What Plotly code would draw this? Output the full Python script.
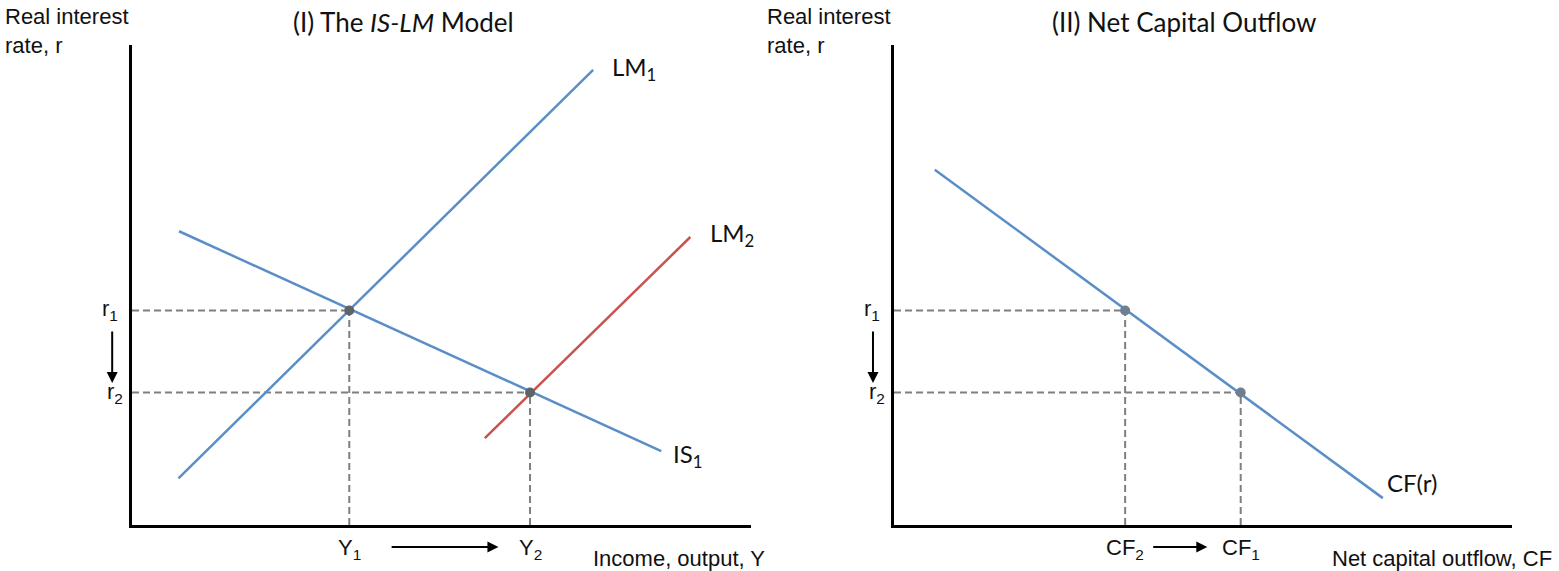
import plotly.graph_objects as go

# ---- Data (model units) ----
# Panel I: IS-LM
lm1_x = [0.75, 7.45]
lm1_y = [0.97, 9.48]
lm2_x = [5.70, 9.02]
lm2_y = [1.81, 6.00]
is1_x = [0.76, 8.55]
is1_y = [6.12, 1.54]
r1 = 4.47
r2 = 2.76
Y1 = 3.51
Y2 = 6.43
# Panel II: net capital outflow
cf_x = [0.66, 7.91]
cf_y = [7.40, 0.56]
CF2 = 3.74
CF1 = 5.61

blue = "#5b8ec6"
red = "#c9534f"
gray = "#7f7f7f"
dash = "7px,4px"
sans = "Liberation Sans, Arial, sans-serif"
cal = "Lato, Carlito, sans-serif"

fig = go.Figure()

def dline(x, y, ax, ay):
    fig.add_trace(go.Scatter(x=x, y=y, mode="lines", xaxis=ax, yaxis=ay,
                             line=dict(color=gray, width=2, dash=dash),
                             hoverinfo="skip", showlegend=False))

# Panel I guides
dline([0, Y1], [r1, r1], "x", "y")
dline([Y1, Y1], [0, r1], "x", "y")
dline([0, Y2], [r2, r2], "x", "y")
dline([Y2, Y2], [0, r2], "x", "y")
# Panel II guides
dline([0, CF2], [r1, r1], "x2", "y2")
dline([CF2, CF2], [0, r1], "x2", "y2")
dline([0, CF1], [r2, r2], "x2", "y2")
dline([CF1, CF1], [0, r2], "x2", "y2")

# curves
fig.add_trace(go.Scatter(x=lm1_x, y=lm1_y, mode="lines", line=dict(color=blue, width=2.5),
                         xaxis="x", yaxis="y", showlegend=False))
fig.add_trace(go.Scatter(x=is1_x, y=is1_y, mode="lines", line=dict(color=blue, width=2.5),
                         xaxis="x", yaxis="y", showlegend=False))
fig.add_trace(go.Scatter(x=lm2_x, y=lm2_y, mode="lines", line=dict(color=red, width=2.5),
                         xaxis="x", yaxis="y", showlegend=False))
fig.add_trace(go.Scatter(x=cf_x, y=cf_y, mode="lines", line=dict(color=blue, width=2.5),
                         xaxis="x2", yaxis="y2", showlegend=False))

# equilibrium points
fig.add_trace(go.Scatter(x=[Y1, Y2], y=[r1, r2], mode="markers",
                         marker=dict(color="#5f6468", size=10), xaxis="x", yaxis="y", showlegend=False))
fig.add_trace(go.Scatter(x=[CF2, CF1], y=[r1, r2], mode="markers",
                         marker=dict(color="#6f7f90", size=10), xaxis="x2", yaxis="y2", showlegend=False))

ann = []
def txt(text, x, y, xref, yref, xanchor="center", yanchor="middle", font=sans, size=22, align="left"):
    ann.append(dict(text=text, x=x, y=y, xref=xref, yref=yref, showarrow=False,
                    xanchor=xanchor, yanchor=yanchor, align=align,
                    font=dict(family=font, size=size, color="#111")))

def varrow(xd, y_head, y_tail, xref, yref):
    # vertical arrow at axis-domain x fraction, data y values
    ann.append(dict(text="", x=xd, y=y_head, ax=0, ay=y_tail, xref=xref + " domain", yref=yref,
                    axref="pixel", ayref=yref, showarrow=True, arrowhead=2,
                    arrowsize=1.1, arrowwidth=2, arrowcolor="#000"))

def harrow(x_head, x_tail, yd, xref, yref):
    ann.append(dict(text="", x=x_head, y=yd, ax=x_tail, ay=0, xref=xref, yref=yref + " domain",
                    axref=xref, ayref="pixel", showarrow=True, arrowhead=2,
                    arrowsize=1.1, arrowwidth=2, arrowcolor="#000"))

# Titles
txt("(I) The <i>IS-LM</i> Model", 0.2585, 1 - 22 / 571, "paper", "paper", font=cal, size=26)
txt("(II) Net Capital Outflow", 0.7595, 1 - 22 / 571, "paper", "paper", font=cal, size=26)
# y-axis titles
txt("Real interest<br>rate, r", 3 / 1559, 1 - 2 / 571, "paper", "paper", xanchor="left", yanchor="top")
txt("Real interest<br>rate, r", 765 / 1559, 1 - 2 / 571, "paper", "paper", xanchor="left", yanchor="top")
# x-axis titles
txt("Income, output, Y", 767 / 1559, 13 / 571, "paper", "paper", xanchor="right")
txt("Net capital outflow, CF", 1554 / 1559, 13 / 571, "paper", "paper", xanchor="right")

# Panel I labels
txt("LM<sub>1</sub>", 7.72, 9.5, "x", "y", xanchor="left", font=cal, size=24)
txt("LM<sub>2</sub>", 9.3, 6.05, "x", "y", xanchor="left", font=cal, size=24)
txt("IS<sub>1</sub>", 8.7, 1.45, "x", "y", xanchor="left", font=cal, size=24)
txt("r<sub>1</sub>", -0.036, r1, "x domain", "y", size=22)
txt("r<sub>2</sub>", -0.027, r2, "x domain", "y", size=22)
txt("Y<sub>1</sub>", Y1, -0.05, "x", "y domain", size=22)
txt("Y<sub>2</sub>", Y2, -0.05, "x", "y domain", size=22)
varrow(-0.032, 2.96, 4.06, "x", "y")
harrow(5.92, 4.17, -0.046, "x", "y")

# Panel II labels
txt("CF(r)", 7.95, 0.88, "x2", "y2", xanchor="left", font=cal, size=24)
txt("r<sub>1</sub>", -0.036, r1, "x2 domain", "y2", size=22)
txt("r<sub>2</sub>", -0.027, r2, "x2 domain", "y2", size=22)
txt("CF<sub>2</sub>", CF2, -0.05, "x2", "y2 domain", size=22)
txt("CF<sub>1</sub>", CF1, -0.05, "x2", "y2 domain", size=22)
varrow(-0.034, 2.96, 4.06, "x2", "y2")
harrow(5.07, 4.17, -0.046, "x2", "y2")

axcommon = dict(range=[0, 10], showgrid=False, zeroline=False, showticklabels=False,
                ticks="", showline=True, linecolor="#000", linewidth=3, fixedrange=True)

fig.update_layout(
    width=1559, height=571,
    margin=dict(l=0, r=0, t=0, b=0),
    paper_bgcolor="white", plot_bgcolor="white",
    showlegend=False,
    annotations=ann,
    xaxis=dict(domain=[132 / 1559, 751 / 1559], anchor="y", **axcommon),
    yaxis=dict(domain=[46 / 571, 526 / 571], anchor="x", **axcommon),
    xaxis2=dict(domain=[894 / 1559, 1512 / 1559], anchor="y2", **axcommon),
    yaxis2=dict(domain=[46 / 571, 526 / 571], anchor="x2", **axcommon),
)

fig.write_html("out.html", config={"displayModeBar": False, "staticPlot": True},
               post_script="document.body.style.margin='0';document.body.style.overflow='hidden';")
